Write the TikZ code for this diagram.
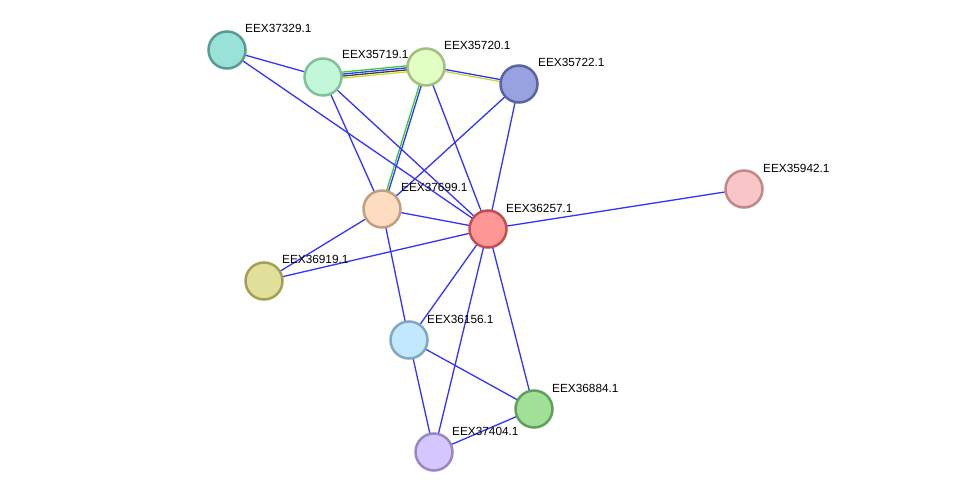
\documentclass[tikz,border=0pt]{standalone}
\usepackage{fontspec}
\setmainfont{Liberation Sans}
\usepackage{xcolor}
\usepackage{tikz}
\usetikzlibrary{backgrounds,calc}

\definecolor{edgeblue}{HTML}{3333FF}
\definecolor{edgegreen}{HTML}{33CC33}
\definecolor{edgeyellow}{HTML}{C8DC32}
\definecolor{edgegray}{HTML}{404040}

\begin{document}
\begin{tikzpicture}[
      x=1pt, y=1pt,
      protein/.style={circle, minimum size=37pt, inner sep=0pt, line width=2.5pt},
      lbl/.style={anchor=west, inner sep=0pt, font=\fontsize{11.8}{13}\selectfont},
      link/.style={draw=edgeblue, line width=1.3pt},
      evid/.style={line width=1.3pt}
]
      \useasboundingbox (0,0) rectangle (976,498);

      \node[protein, fill={rgb,255:red,153;green,226;blue,216}, draw={rgb,255:red,90;green,154;blue,148}] (eex37329) at (227,448) {};
      \node[protein, fill={rgb,255:red,194;green,247;blue,217}, draw={rgb,255:red,128;green,192;blue,154}] (eex35719) at (323,421) {};
      \node[protein, fill={rgb,255:red,226;green,255;blue,196}, draw={rgb,255:red,160;green,192;blue,128}] (eex35720) at (426,431) {};
      \node[protein, fill={rgb,255:red,152;green,162;blue,224}, draw={rgb,255:red,90;green,100;blue,160}] (eex35722) at (519,414) {};
      \node[protein, fill={rgb,255:red,248;green,198;blue,198}, draw={rgb,255:red,192;green,136;blue,136}] (eex35942) at (744,309) {};
      \node[protein, fill={rgb,255:red,254;green,220;blue,192}, draw={rgb,255:red,192;green,160;blue,128}] (eex37699) at (382,289) {};
      \node[protein, fill={rgb,255:red,255;green,150;blue,150}, draw={rgb,255:red,192;green,80;blue,80}] (eex36257) at (488,269) {};
      \node[protein, fill={rgb,255:red,224;green,224;blue,154}, draw={rgb,255:red,160;green,160;blue,88}] (eex36919) at (264,217) {};
      \node[protein, fill={rgb,255:red,194;green,232;blue,255}, draw={rgb,255:red,128;green,168;blue,192}] (eex36156) at (409,158) {};
      \node[protein, fill={rgb,255:red,160;green,224;blue,152}, draw={rgb,255:red,96;green,160;blue,88}] (eex36884) at (534,89) {};
      \node[protein, fill={rgb,255:red,214;green,198;blue,255}, draw={rgb,255:red,152;green,136;blue,192}] (eex37404) at (434,46) {};

      % labels
      \node[lbl] (t37329) at ($(eex37329)+(18,22)$) {EEX37329.1};
      \node[lbl] (t35719) at ($(eex35719)+(19,23)$) {EEX35719.1};
      \node[lbl] (t35720) at ($(eex35720)+(18,22)$) {EEX35720.1};
      \node[lbl] (t35722) at ($(eex35722)+(19,22)$) {EEX35722.1};
      \node[lbl] (t35942) at ($(eex35942)+(19,21)$) {EEX35942.1};
      \node[lbl] (t37699) at ($(eex37699)+(19,22)$) {EEX37699.1};
      \node[lbl] (t36257) at ($(eex36257)+(18,21)$) {EEX36257.1};
      \node[lbl] (t36919) at ($(eex36919)+(18,22)$) {EEX36919.1};
      \node[lbl] (t36156) at ($(eex36156)+(18,21)$) {EEX36156.1};
      \node[lbl] (t36884) at ($(eex36884)+(18,21)$) {EEX36884.1};
      \node[lbl] (t37404) at ($(eex37404)+(18,21)$) {EEX37404.1};

      \begin{pgfonlayer}{background}
            % multi-evidence edges
            \draw[evid, edgegreen] ($(eex35719)!3pt!90:(eex35720)$) -- ($(eex35720)!3pt!-90:(eex35719)$);
            \draw[evid, edgeblue] ($(eex35719)!1pt!90:(eex35720)$) -- ($(eex35720)!1pt!-90:(eex35719)$);
            \draw[evid, edgegray] ($(eex35719)!-1pt!90:(eex35720)$) -- ($(eex35720)!-1pt!-90:(eex35719)$);
            \draw[evid, edgeyellow] ($(eex35719)!-3pt!90:(eex35720)$) -- ($(eex35720)!-3pt!-90:(eex35719)$);
            \draw[evid, edgeblue] ($(eex35720)!1pt!90:(eex35722)$) -- ($(eex35722)!1pt!-90:(eex35720)$);
            \draw[evid, edgeyellow] ($(eex35720)!-1pt!90:(eex35722)$) -- ($(eex35722)!-1pt!-90:(eex35720)$);
            \draw[evid, edgeblue] ($(eex35720)!1pt!90:(eex37699)$) -- ($(eex37699)!1pt!-90:(eex35720)$);
            \draw[evid, edgegreen] ($(eex35720)!-1pt!90:(eex37699)$) -- ($(eex37699)!-1pt!-90:(eex35720)$);

            % single edges
            \draw[link] (eex37329.center) -- (eex35719.center);
            \draw[link] (eex37329.center) -- (eex36257.center);
            \draw[link] (eex35719.center) -- (eex37699.center);
            \draw[link] (eex35719.center) -- (eex36257.center);
            \draw[link] (eex35720.center) -- (eex36257.center);
            \draw[link] (eex35722.center) -- (eex37699.center);
            \draw[link] (eex35722.center) -- (eex36257.center);
            \draw[link] (eex37699.center) -- (eex36257.center);
            \draw[link] (eex37699.center) -- (eex36919.center);
            \draw[link] (eex37699.center) -- (eex36156.center);
            \draw[link] (eex36257.center) -- (eex36919.center);
            \draw[link] (eex36257.center) -- (eex35942.center);
            \draw[link] (eex36257.center) -- (eex36156.center);
            \draw[link] (eex36257.center) -- (eex36884.center);
            \draw[link] (eex36257.center) -- (eex37404.center);
            \draw[link] (eex36156.center) -- (eex36884.center);
            \draw[link] (eex36156.center) -- (eex37404.center);
            \draw[link] (eex36884.center) -- (eex37404.center);
      \end{pgfonlayer}
\end{tikzpicture}
\end{document}
